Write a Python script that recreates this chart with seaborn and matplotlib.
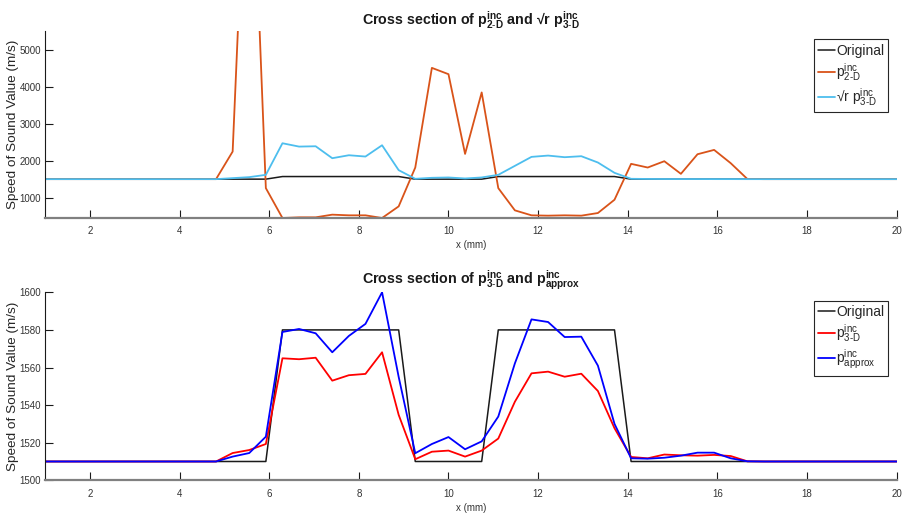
import numpy as np
import pandas as pd
import seaborn as sns
import matplotlib
matplotlib.use("Agg")
import matplotlib.pyplot as plt

# Sample positions along the cross section (mm): 55 samples over 0..20 mm
x_mm = np.arange(55) * 20.0 / 54.0

original = [1510] * 17 + [1580] * 8 + [1510] * 5 + [1580] * 8 + [1510] * 17

p2d_inc = [1510, 1510, 1510, 1510, 1510, 1510, 1510, 1510, 1510, 1510,
           1510, 1510, 1510, 1510, 2253, 12600, 1268, 463, 481, 481,
           553, 535, 535, 463, 776, 1823, 4508, 4338, 2190, 3846,
           1268, 669, 535, 526, 535, 526, 597, 955, 1922, 1823,
           1993, 1653, 2181, 2298, 1940, 1515, 1510, 1510, 1510, 1510,
           1510, 1510, 1510, 1510, 1510]

sqrt_r_p3d_inc = [1510, 1510, 1510, 1510, 1510, 1510, 1510, 1510, 1510, 1510,
                  1510, 1510, 1510, 1510, 1537, 1564, 1626, 2477, 2387, 2396,
                  2074, 2154, 2119, 2423, 1752, 1519, 1546, 1555, 1528, 1555,
                  1626, 1868, 2110, 2145, 2101, 2128, 1958, 1680, 1519, 1515,
                  1513, 1512, 1512, 1511, 1511, 1510, 1510, 1510, 1510, 1510,
                  1510, 1510, 1510, 1510, 1510]

p3d_inc = [1510, 1510, 1510, 1510, 1510, 1510, 1510, 1510, 1510, 1510,
           1510, 1510, 1510, 1510, 1514.5, 1516.1, 1519.3, 1564.9, 1564.4, 1565.2,
           1553.0, 1555.9, 1556.6, 1568.1, 1534.8, 1511.2, 1515.2, 1515.8, 1512.6, 1515.8,
           1522.2, 1541.8, 1556.9, 1557.8, 1555.1, 1556.7, 1547.5, 1527.7, 1512.4, 1511.7,
           1513.7, 1513.3, 1513.1, 1513.5, 1512.9, 1510.1, 1510, 1510, 1510, 1510,
           1510, 1510, 1510, 1510, 1510]

p_approx_inc = [1510, 1510, 1510, 1510, 1510, 1510, 1510, 1510, 1510, 1510,
                1510, 1510, 1510, 1510, 1512.6, 1514.5, 1523.2, 1578.9, 1580.5, 1578.2,
                1568.1, 1576.8, 1583.2, 1600.0, 1555.0, 1514.4, 1519.3, 1523.0, 1516.5, 1520.7,
                1533.9, 1562.2, 1585.6, 1584.2, 1576.2, 1576.4, 1561.0, 1530.0, 1511.7, 1511.5,
                1512.0, 1513.1, 1514.7, 1514.7, 1511.7, 1510.1, 1510, 1510, 1510, 1510,
                1510, 1510, 1510, 1510, 1510]

x_ticks = [2, 4, 6, 8, 10, 12, 14, 16, 18, 20]
top_yticks = [1000, 2000, 3000, 4000, 5000]
bottom_yticks = [1500, 1520, 1540, 1560, 1580, 1600]

sns.set_style("ticks")
plt.rcParams["font.family"] = ["Liberation Sans", "DejaVu Sans"]
plt.rcParams["mathtext.fontset"] = "custom"
plt.rcParams["mathtext.rm"] = "Liberation Sans"
plt.rcParams["mathtext.it"] = "Liberation Sans"
plt.rcParams["mathtext.bf"] = "Liberation Sans:bold"

fig = plt.figure(figsize=(9.08, 5.15), dpi=100)
ax_top = fig.add_axes([0.0496, 0.5767, 0.938, 0.363])
ax_bot = fig.add_axes([0.0496, 0.0674, 0.938, 0.365])

top_df = pd.DataFrame({"x": x_mm, "orig": original, "p2d": p2d_inc, "sr3d": sqrt_r_p3d_inc})
bot_df = pd.DataFrame({"x": x_mm, "orig": original, "p3d": p3d_inc, "approx": p_approx_inc})

lab_orig = "Original"
lab_p2d = r"$\mathrm{p}^{\mathrm{inc}}_{\mathrm{2\text{-}D}}$"
lab_sr3d = "\u221ar " + r"$\mathrm{p}^{\mathrm{inc}}_{\mathrm{3\text{-}D}}$"
lab_p3d = r"$\mathrm{p}^{\mathrm{inc}}_{\mathrm{3\text{-}D}}$"
lab_approx = r"$\mathrm{p}^{\mathrm{inc}}_{\mathrm{approx}}$"

sns.lineplot(data=top_df, x="x", y="orig", ax=ax_top, color="#1a1a1a", lw=1.1, label=lab_orig)
sns.lineplot(data=top_df, x="x", y="p2d", ax=ax_top, color="#D95319", lw=1.3, label=lab_p2d)
sns.lineplot(data=top_df, x="x", y="sr3d", ax=ax_top, color="#4DBEEE", lw=1.3, label=lab_sr3d)

sns.lineplot(data=bot_df, x="x", y="orig", ax=ax_bot, color="#1a1a1a", lw=1.1, label=lab_orig)
sns.lineplot(data=bot_df, x="x", y="p3d", ax=ax_bot, color="#FF0000", lw=1.3, label=lab_p3d)
sns.lineplot(data=bot_df, x="x", y="approx", ax=ax_bot, color="#0000FF", lw=1.3, label=lab_approx)

ax_top.set_ylim(463, 5500)
ax_top.set_yticks(top_yticks)
ax_bot.set_ylim(1500, 1600)
ax_bot.set_yticks(bottom_yticks)

ax_top.set_title(r"Cross section of $\mathbf{p}^{\mathbf{inc}}_{\mathbf{2\text{-}D}}$ and "
                 "\u221ar " + r"$\mathbf{p}^{\mathbf{inc}}_{\mathbf{3\text{-}D}}$",
                 fontsize=10.3, fontweight="bold", color="#1a1a1a", pad=4)
ax_bot.set_title(r"Cross section of $\mathbf{p}^{\mathbf{inc}}_{\mathbf{3\text{-}D}}$ and "
                 r"$\mathbf{p}^{\mathbf{inc}}_{\mathbf{approx}}$",
                 fontsize=10.3, fontweight="bold", color="#1a1a1a", pad=4)

for ax in (ax_top, ax_bot):
    ax.set_xlim(1, 20)
    ax.set_xticks(x_ticks)
    ax.set_xlabel("x (mm)", fontsize=7, color="#333333", labelpad=3)
    ax.set_ylabel("Speed of Sound Value (m/s)", fontsize=9.7, color="#262626")
    ax.yaxis.set_label_coords(-0.031, 0.5)
    ax.spines["top"].set_visible(False)
    ax.spines["right"].set_visible(False)
    ax.spines["left"].set_color("#1a1a1a")
    ax.spines["left"].set_linewidth(0.8)
    ax.spines["bottom"].set_color("#808080")
    ax.spines["bottom"].set_linewidth(1.6)
    ax.tick_params(axis="x", direction="in", length=6, width=0.8, color="#1a1a1a",
                   labelsize=7, labelcolor="#333333", pad=6)
    ax.tick_params(axis="y", direction="in", length=6, width=0.8, color="#1a1a1a",
                   labelsize=7, labelcolor="#333333", pad=3)
    leg = ax.legend(loc="upper right", fontsize=10, handlelength=1.2, handletextpad=0.1,
                    borderpad=0.3, labelspacing=0.25, borderaxespad=0.6,
                    frameon=True, fancybox=False, framealpha=1)
    leg.get_frame().set_edgecolor("#262626")
    leg.get_frame().set_linewidth(0.8)

fig.savefig("out.png", dpi=100)
